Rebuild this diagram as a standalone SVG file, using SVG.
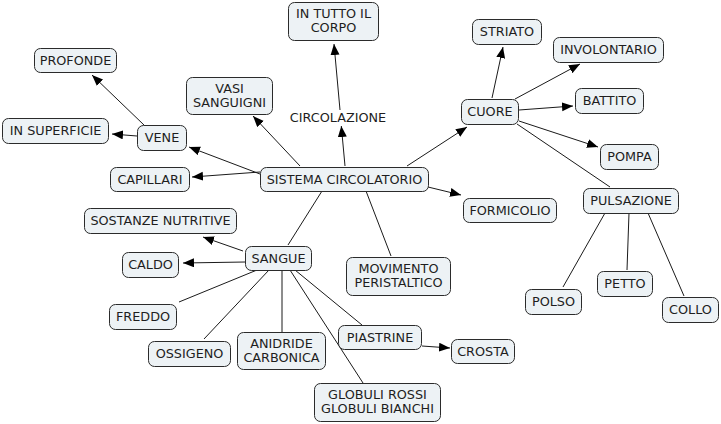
<svg xmlns="http://www.w3.org/2000/svg" width="721" height="424" viewBox="0 0 721 424">
<style>
.n rect{fill:#edf2f5;stroke:#2b2b2b;stroke-width:1;}
.n text,.lbl{font-family:"DejaVu Sans",Verdana,sans-serif;font-size:12.8px;fill:#1e1e1e;text-anchor:middle;}
.c line{stroke:#1a1a1a;stroke-width:1;}
.a{marker-end:url(#ah);}
</style>
<defs>
<marker id="ah" markerUnits="userSpaceOnUse" markerWidth="12" markerHeight="10" refX="11" refY="4.5" orient="auto">
<path d="M0,0 L11,4.5 L0,9 z" fill="#000"/>
</marker>
</defs>
<rect width="721" height="424" fill="#fff"/>
<g id="connectors" class="c">
<line class="a" x1="345" y1="166" x2="341.3" y2="126"/>
<line class="a" x1="340" y1="110" x2="334" y2="44"/>
<line class="a" x1="300" y1="166" x2="253" y2="116"/>
<line class="a" x1="407" y1="166" x2="467" y2="127"/>
<line class="a" x1="428" y1="187" x2="461" y2="195"/>
<line class="a" x1="260" y1="174" x2="189" y2="147"/>
<line class="a" x1="260" y1="172" x2="192" y2="177"/>
<line class="a" x1="144" y1="125" x2="92" y2="75"/>
<line class="a" x1="137" y1="136" x2="112" y2="134"/>
<line class="a" x1="492" y1="98" x2="503" y2="47"/>
<line class="a" x1="515" y1="99" x2="580" y2="64"/>
<line class="a" x1="519" y1="110" x2="573" y2="106"/>
<line class="a" x1="519" y1="121" x2="598" y2="147"/>
<line x1="517" y1="124" x2="610" y2="187"/>
<line x1="605" y1="213" x2="563" y2="287"/>
<line x1="629" y1="213" x2="627" y2="270"/>
<line x1="648" y1="213" x2="684" y2="296"/>
<line x1="322" y1="191" x2="288" y2="245"/>
<line x1="366" y1="191" x2="391" y2="256"/>
<line class="a" x1="243" y1="251" x2="203" y2="237"/>
<line class="a" x1="245" y1="262" x2="183" y2="263"/>
<line x1="257" y1="270" x2="179" y2="302"/>
<line x1="269" y1="270" x2="204" y2="339"/>
<line x1="282" y1="270" x2="282" y2="332"/>
<line x1="295" y1="270" x2="362" y2="325"/>
<line x1="290" y1="270" x2="363" y2="383"/>
<line class="a" x1="422" y1="346" x2="450" y2="348"/>
</g>
<text class="lbl" x="338" y="122">CIRCOLAZIONE</text>
<g id="sistema" class="n"><rect x="260.5" y="167.5" width="168" height="24" rx="6"/><text x="344.5" y="183.5">SISTEMA CIRCOLATORIO</text></g>
<g id="tutto" class="n"><rect x="288.5" y="2.5" width="90" height="38" rx="6"/><text x="333.5" y="18.3">IN TUTTO IL</text><text x="333.5" y="32.3">CORPO</text></g>
<g id="vasi" class="n"><rect x="186.5" y="77.5" width="86" height="37" rx="6"/><text x="229.5" y="93">VASI</text><text x="229.5" y="107">SANGUIGNI</text></g>
<g id="profonde" class="n"><rect x="34.5" y="48.5" width="82" height="24" rx="6"/><text x="75.5" y="64.5">PROFONDE</text></g>
<g id="superficie" class="n"><rect x="2.5" y="118.5" width="106" height="25" rx="6"/><text x="55.5" y="134.5">IN SUPERFICIE</text></g>
<g id="vene" class="n"><rect x="137.5" y="125.5" width="49" height="25" rx="6"/><text x="162" y="141.5">VENE</text></g>
<g id="capillari" class="n"><rect x="110.5" y="167.5" width="79" height="24" rx="6"/><text x="150" y="183.5">CAPILLARI</text></g>
<g id="cuore" class="n"><rect x="461.5" y="99.5" width="57" height="25" rx="6"/><text x="490" y="115.5">CUORE</text></g>
<g id="striato" class="n"><rect x="472.5" y="19.5" width="69" height="25" rx="6"/><text x="507" y="35.5">STRIATO</text></g>
<g id="involontario" class="n"><rect x="553.5" y="37.5" width="110" height="25" rx="6"/><text x="608.5" y="53.5">INVOLONTARIO</text></g>
<g id="battito" class="n"><rect x="575.5" y="88.5" width="68" height="25" rx="6"/><text x="609.5" y="104.5">BATTITO</text></g>
<g id="pompa" class="n"><rect x="600.5" y="144.5" width="58" height="25" rx="6"/><text x="629.5" y="160.5">POMPA</text></g>
<g id="pulsazione" class="n"><rect x="583.5" y="188.5" width="95" height="25" rx="6"/><text x="631" y="204.5">PULSAZIONE</text></g>
<g id="formicolio" class="n"><rect x="463.5" y="198.5" width="93" height="24" rx="6"/><text x="510" y="214.5">FORMICOLIO</text></g>
<g id="polso" class="n"><rect x="525.5" y="289.5" width="56" height="25" rx="6"/><text x="553.5" y="305.5">POLSO</text></g>
<g id="petto" class="n"><rect x="597.5" y="271.5" width="55" height="25" rx="6"/><text x="625" y="287.5">PETTO</text></g>
<g id="collo" class="n"><rect x="662.5" y="297.5" width="56" height="25" rx="6"/><text x="690.5" y="313.5">COLLO</text></g>
<g id="sangue" class="n"><rect x="245.5" y="246.5" width="66" height="24" rx="6"/><text x="278.5" y="262.5">SANGUE</text></g>
<g id="movimento" class="n"><rect x="346.5" y="257.5" width="104" height="38" rx="6"/><text x="398.5" y="273">MOVIMENTO</text><text x="398.5" y="287">PERISTALTICO</text></g>
<g id="sostanze" class="n"><rect x="84.5" y="208.5" width="152" height="25" rx="6"/><text x="160.5" y="224.5">SOSTANZE NUTRITIVE</text></g>
<g id="caldo" class="n"><rect x="122.5" y="252.5" width="56" height="25" rx="6"/><text x="150.5" y="268.5">CALDO</text></g>
<g id="freddo" class="n"><rect x="109.5" y="304.5" width="67" height="25" rx="6"/><text x="143" y="320.5">FREDDO</text></g>
<g id="ossigeno" class="n"><rect x="148.5" y="341.5" width="82" height="25" rx="6"/><text x="189.5" y="357.5">OSSIGENO</text></g>
<g id="anidride" class="n"><rect x="237.5" y="332.5" width="88" height="37" rx="6"/><text x="281.5" y="348">ANIDRIDE</text><text x="281.5" y="362">CARBONICA</text></g>
<g id="piastrine" class="n"><rect x="338.5" y="325.5" width="83" height="24" rx="6"/><text x="380" y="341.5">PIASTRINE</text></g>
<g id="crosta" class="n"><rect x="451.5" y="339.5" width="63" height="24" rx="6"/><text x="483" y="355.5">CROSTA</text></g>
<g id="globuli" class="n"><rect x="314.5" y="383.5" width="126" height="38" rx="6"/><text x="377.5" y="399">GLOBULI ROSSI</text><text x="377.5" y="413">GLOBULI BIANCHI</text></g>
</svg>
